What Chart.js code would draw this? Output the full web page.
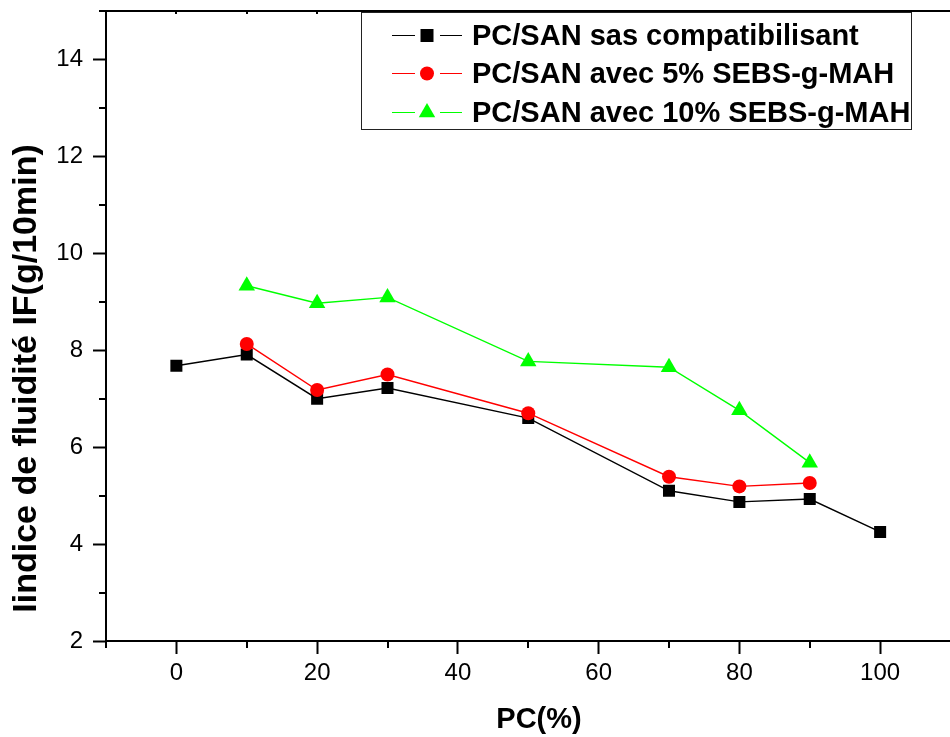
<!DOCTYPE html>
<html>
<head>
<meta charset="utf-8">
<script src="https://cdn.jsdelivr.net/npm/chart.js@4.4.1/dist/chart.umd.min.js"></script>
<style>
html,body{margin:0;padding:0;background:#fff;overflow:hidden;}
#wrap{width:960px;height:737px;}
</style>
</head>
<body>
<div id="wrap"><canvas id="c" width="960" height="737"></canvas></div>
<script>
// ---- data ----
const seriesLabels = ['PC/SAN sas compatibilisant', 'PC/SAN avec 5% SEBS-g-MAH', 'PC/SAN avec 10% SEBS-g-MAH'];
const seriesColors = ['#000000', '#ff0000', '#00ff00'];
const pcNoComp = [0, 10, 20, 30, 50, 70, 80, 90, 100];
const ifNoComp = [7.68, 7.91, 7.0, 7.22, 6.6, 5.1, 4.87, 4.93, 4.25];
const pc5 = [10, 20, 30, 50, 70, 80, 90];
const if5 = [8.13, 7.18, 7.5, 6.7, 5.39, 5.19, 5.26];
const pc10 = [10, 20, 30, 50, 70, 80, 90];
const if10 = [9.33, 8.97, 9.09, 7.77, 7.65, 6.76, 5.68];
const xTickValues = [0, 20, 40, 60, 80, 100];
const xMinorValues = [-10, 10, 30, 50, 70, 90, 110];
const yTickValues = [2, 4, 6, 8, 10, 12, 14];
const yMinorValues = [3, 5, 7, 9, 11, 13, 15];
const xTitle = 'PC(%)';
const yTitle = 'Iindice de fluidité IF(g/10min)';

const FONT = '"Liberation Sans", Arial, Helvetica, sans-serif';
function pts(xs, ys) { return xs.map((x, i) => ({ x: x, y: ys[i] })); }

function drawMarker(ctx, style, x, y, color) {
  ctx.fillStyle = color;
  ctx.beginPath();
  if (style === 'rect') {
    ctx.rect(x - 6.5, y - 6.5, 13, 13);
  } else if (style === 'circle') {
    ctx.arc(x, y, 7, 0, Math.PI * 2);
  } else {
    const r = 9.5;
    ctx.moveTo(x, y - r);
    ctx.lineTo(x + r * Math.sin(Math.PI / 3), y + r / 2);
    ctx.lineTo(x - r * Math.sin(Math.PI / 3), y + r / 2);
    ctx.closePath();
  }
  ctx.fill();
}

const decor = {
  id: 'decor',
  afterDraw(chart) {
    const ctx = chart.ctx, a = chart.chartArea;
    const xs = chart.scales.x, ys = chart.scales.y;
    ctx.save();
    ctx.strokeStyle = '#000';
    ctx.lineWidth = 2;
    // top frame line
    ctx.beginPath();
    ctx.moveTo(a.left - 1, a.top);
    ctx.lineTo(a.right + 1, a.top);
    ctx.stroke();
    // minor ticks
    ctx.beginPath();
    xMinorValues.forEach(v => {
      const px = Math.round(xs.getPixelForValue(v));
      ctx.moveTo(px, a.bottom);
      ctx.lineTo(px, a.bottom + 7);
    });
    yMinorValues.forEach(v => {
      const py = Math.round(ys.getPixelForValue(v));
      ctx.moveTo(a.left, py);
      ctx.lineTo(a.left - 7, py);
    });
    ctx.stroke();
    // small top ticks
    ctx.beginPath();
    xTickValues.concat(xMinorValues).forEach(v => {
      const px = Math.round(xs.getPixelForValue(v));
      ctx.moveTo(px, a.top);
      ctx.lineTo(px, a.top + 3);
    });
    ctx.stroke();

    // legend
    const lx = 361, ly = 12, lw = 550, lh = 117;
    ctx.fillStyle = '#fff';
    ctx.fillRect(lx, ly, lw, lh);
    ctx.lineWidth = 1;
    ctx.strokeStyle = '#222';
    ctx.strokeRect(lx + 0.5, ly + 0.5, lw, lh);
    const rows = [35.5, 73.5, 112.5];
    chart.data.datasets.forEach((ds, i) => {
      const y = rows[i];
      ctx.strokeStyle = seriesColors[i];
      ctx.lineWidth = 1;
      ctx.beginPath();
      ctx.moveTo(392, y); ctx.lineTo(415, y);
      ctx.moveTo(440, y); ctx.lineTo(462, y);
      ctx.stroke();
      drawMarker(ctx, ds.pointStyle, 427, y, seriesColors[i]);
      ctx.fillStyle = '#000';
      ctx.font = 'bold 29px ' + FONT;
      ctx.textAlign = 'left';
      ctx.textBaseline = 'middle';
      ctx.fillText(ds.label, 472, y + 1);
    });

    // axis titles
    ctx.fillStyle = '#000';
    ctx.font = 'bold 29px ' + FONT;
    ctx.textAlign = 'center';
    ctx.textBaseline = 'middle';
    ctx.fillText(xTitle, 539, 720);
    ctx.save();
    ctx.translate(27, 378.5);
    ctx.rotate(-Math.PI / 2);
    ctx.font = 'bold 34px ' + FONT;
    ctx.fillText(yTitle, 0, 0);
    ctx.restore();
    ctx.restore();
  }
};

new Chart(document.getElementById('c'), {
  type: 'scatter',
  data: {
    datasets: [
      { label: seriesLabels[0], data: pts(pcNoComp, ifNoComp), showLine: true,
        borderColor: seriesColors[0], backgroundColor: seriesColors[0], borderWidth: 1.4,
        pointStyle: 'rect', pointRadius: 8.5, pointHoverRadius: 8.5, pointBorderWidth: 0, order: 1 },
      { label: seriesLabels[1], data: pts(pc5, if5), showLine: true,
        borderColor: seriesColors[1], backgroundColor: seriesColors[1], borderWidth: 1.4,
        pointStyle: 'circle', pointRadius: 7, pointHoverRadius: 7, pointBorderWidth: 0, order: 0 },
      { label: seriesLabels[2], data: pts(pc10, if10), showLine: true,
        borderColor: seriesColors[2], backgroundColor: seriesColors[2], borderWidth: 1.4,
        pointStyle: 'triangle', pointRadius: 9.5, pointHoverRadius: 9.5, pointBorderWidth: 0, order: 0 }
    ]
  },
  options: {
    responsive: false,
    animation: false,
    layout: { padding: { left: 0, top: 11, right: 4, bottom: 0 } },
    plugins: { legend: { display: false }, tooltip: { enabled: false } },
    scales: {
      x: {
        type: 'linear', min: -10, max: 110,
        afterBuildTicks: s => { s.ticks = xTickValues.map(v => ({ value: v })); },
        afterFit: s => { s.height = 96; s.paddingLeft = 0; s.paddingRight = 0; },
        grid: { display: true, drawOnChartArea: false, drawTicks: true, tickLength: 13, tickWidth: 2, tickColor: '#000' },
        border: { display: true, color: '#000', width: 2 },
        ticks: { color: '#000', padding: 5, font: { family: FONT, size: 24 }, maxRotation: 0, autoSkip: false }
      },
      y: {
        type: 'linear', min: 2, max: 15,
        afterBuildTicks: s => { s.ticks = yTickValues.map(v => ({ value: v })); },
        afterFit: s => { s.width = 106; s.paddingTop = 0; s.paddingBottom = 0; },
        grid: { display: true, drawOnChartArea: false, drawTicks: true, tickLength: 13, tickWidth: 2, tickColor: '#000' },
        border: { display: true, color: '#000', width: 2 },
        ticks: { color: '#000', padding: 10, font: { family: FONT, size: 24 }, autoSkip: false }
      }
    }
  },
  plugins: [decor]
});
</script>
</body>
</html>
